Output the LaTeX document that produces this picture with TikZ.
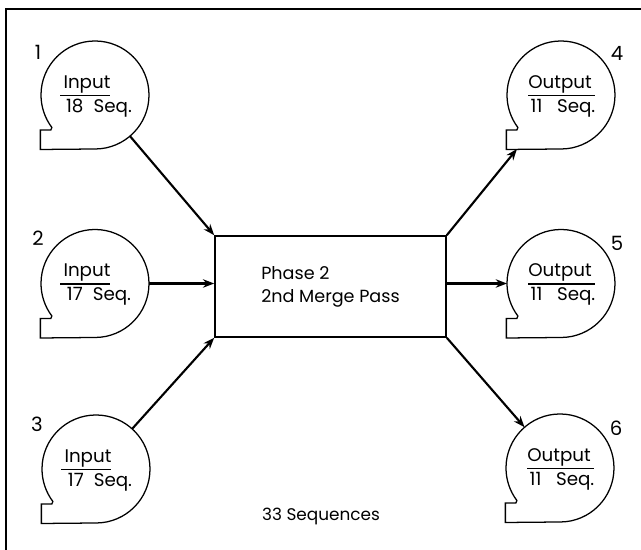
\documentclass[tikz,border=0pt]{standalone}
\usepackage{fontspec}
\setmainfont{Poppins}
\usetikzlibrary{positioning,arrows.meta,calc}

\tikzset{
  tapenode/.style={circle,minimum size=2.7cm,inner sep=0pt,outer sep=0pt},
  tapeline/.style={line width=0.9pt,line join=miter},
  tapetext/.style={font=\fontsize{13}{15}\selectfont,inner sep=0pt,anchor=base},
  tapenum/.style={font=\fontsize{14}{16}\selectfont,inner sep=0pt},
  flowline/.style={line width=1.5pt,-{Stealth[length=8pt,width=6pt]}},
}

\begin{document}
\begin{tikzpicture}[x=0.025cm,y=0.025cm]
\useasboundingbox (0,0) rectangle (641,550);
% Page frame
\draw[line width=1.5pt] (6,0) -- (6,541) -- (641,541);

% Merge box
\node[draw,line width=1.1pt,minimum width=5.775cm,minimum height=2.525cm,inner sep=0pt,align=left,
  font=\fontsize{12.5}{16.3}\selectfont] (phase) at (330.5,263.5) {Phase 2\\2nd Merge Pass};

% Input tapes
\foreach \name/\x/\y/\seq/\num/\nx/\ny in {tape1/95/455/18/1/38/498,tape2/95/266.5/17/2/38/312,tape3/96/81/17/3/37/126} {
  \node[tapenode] (\name) at (\x,\y) {};
  \draw[tapeline] ($(\name)+(0,-54)$) arc[start angle=-90,end angle=217,radius=54]
    -- ++(-1,-2.5) -- ++(-10.5,0) -- ++(0,-19.5) -- cycle;
  \node[tapetext] (\name top) at ($(\name)+(-8,6.5)$) {Input};
  \node[tapetext] (\name bottom) at ($(\name)+(4,-17.5)$) {\seq\hspace{0.55em}Seq.};
  \draw[line width=0.9pt] ($(\name)+(-35,-0.5)$) -- ($(\name)+(15,-0.5)$);
  \node[tapenum] (\name num) at (\nx,\ny) {\num};
}

% Output tapes
\foreach \name/\x/\y/\num/\nx/\ny in {tape4/561/455/4/617/497,tape5/561/266.5/5/617/307,tape6/560/82/6/616/122} {
  \node[tapenode] (\name) at (\x,\y) {};
  \draw[tapeline] ($(\name)+(0,-54)$) arc[start angle=-90,end angle=217,radius=54]
    -- ++(-1,-2.5) -- ++(-10.5,0) -- ++(0,-19.5) -- cycle;
  \node[tapetext] (\name top) at ($(\name)+(-1,6.5)$) {Output};
  \node[tapetext] (\name bottom) at ($(\name)+(2,-17.5)$) {11\hspace{0.8em}Seq.};
  \draw[line width=0.9pt] ($(\name)+(-33,-0.5)$) -- ($(\name)+(34,-0.5)$);
  \node[tapenum] (\name num) at (\nx,\ny) {\num};
}

% Flow into and out of the box
\coordinate (foot4) at (517,401);
\draw[flowline] (tape1) -- (phase.north west);
\draw[flowline] (tape2) -- (phase.west |- tape2);
\draw[flowline] (tape3) -- (phase.south west);
\draw[flowline] (phase.north east) -- (foot4);
\draw[flowline] (phase.east |- tape5) -- (tape5);
\draw[flowline] (phase.south east) -- (tape6);

\node[font=\fontsize{12}{14}\selectfont,inner sep=0pt] (total) at (321,34) {33 Sequences};
\end{tikzpicture}
\end{document}
